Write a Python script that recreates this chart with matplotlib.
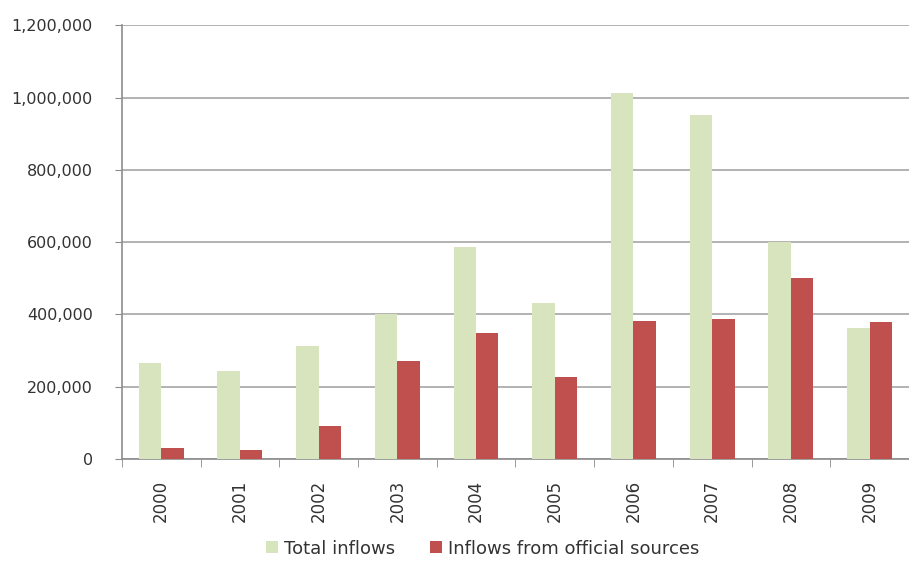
import numpy as np
import matplotlib.pyplot as plt
from matplotlib.ticker import FuncFormatter, FixedLocator

# Data
years = ["2000", "2001", "2002", "2003", "2004", "2005", "2006", "2007", "2008", "2009"]
total_inflows = [265000, 243000, 313000, 401000, 586000, 431000, 1012000, 951000, 600000, 362000]
official_inflows = [30000, 25000, 91000, 271000, 348000, 227000, 382000, 387000, 500000, 379000]

green = "#d7e4bd"
red = "#c0504d"
text_color = "#333333"
line_color = "#8c8c8c"

fig = plt.figure(figsize=(9.09, 5.61), dpi=100)
ax = fig.add_axes([0.134, 0.182, 0.866, 0.773])

x = np.arange(len(years))
w = 0.285

ax.bar(x - w / 2, total_inflows, width=w, color=green, label="Total inflows", zorder=3)
ax.bar(x + w / 2, official_inflows, width=w, color=red, label="Inflows from official sources", zorder=3)

ax.set_xlim(-0.5, len(years) - 0.5)
ax.set_ylim(0, 1200000)

# Y axis
ax.set_yticks(np.arange(0, 1200001, 200000))
ax.yaxis.set_major_formatter(FuncFormatter(lambda v, p: f"{int(v):,}"))
ax.grid(axis="y", color="#a6a6a6", linewidth=1.2, zorder=0)
ax.tick_params(axis="y", length=5, color=line_color, labelsize=11.5, labelcolor=text_color, pad=16)

# X axis: labels at centers, tick marks between categories
ax.set_xticks(x)
ax.set_xticklabels(years, rotation=90, fontsize=12, color=text_color)
ax.tick_params(axis="x", length=0, pad=15)
ax.xaxis.set_minor_locator(FixedLocator(np.arange(-0.5, len(years), 1.0)))
ax.tick_params(axis="x", which="minor", length=6, color=line_color)

for s in ["top", "right"]:
    ax.spines[s].set_visible(False)
ax.spines["left"].set_color(line_color)
ax.spines["bottom"].set_color(line_color)
ax.spines["left"].set_linewidth(1.2)
ax.spines["bottom"].set_linewidth(1.2)

fig.legend(
    loc="center",
    bbox_to_anchor=(0.531, 0.022),
    ncol=2,
    frameon=False,
    fontsize=13,
    handlelength=0.66,
    handleheight=0.66,
    handletextpad=0.35,
    columnspacing=1.9,
    labelcolor=text_color,
    borderpad=0,
)

fig.savefig("out.png", dpi=100)
